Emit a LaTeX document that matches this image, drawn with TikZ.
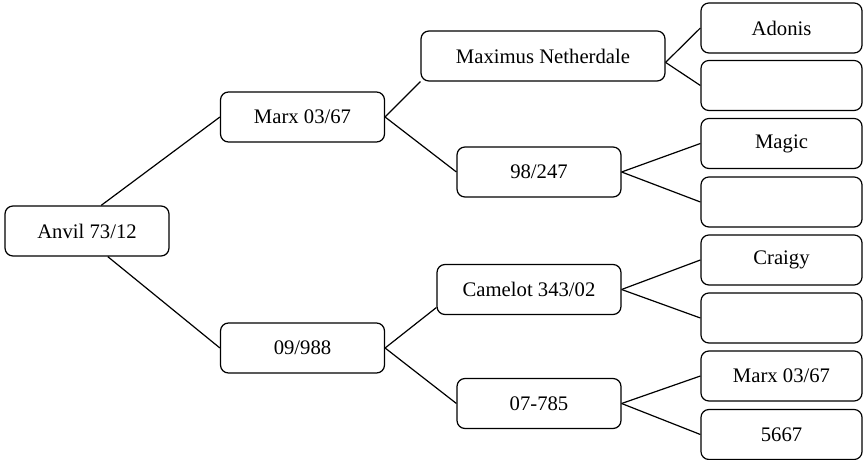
\documentclass[tikz,border=0pt]{standalone}
\usepackage{fontspec}
\setmainfont{Liberation Serif}
\usepackage{tikz}

\begin{document}
\begin{tikzpicture}[x=0.58pt,y=-0.58pt]
\tikzstyle{every node}+=[font=\fontsize{12}{14}\selectfont]
\tikzstyle{box}=[draw,line width=0.7pt,rounded corners=4.6pt,minimum width=95.1pt,minimum height=29pt,inner sep=0pt]
\tikzstyle{leaf}=[box,minimum width=93.4pt]
\tikzstyle{link}=[line width=0.7pt]

\useasboundingbox (0,0) rectangle (863,460);

% tree boxes
\node [box] (anvil) at (87,231) {Anvil 73/12};
\node [box] (marx) at (302.5,117) {Marx 03/67};
\node [box] (n0988) at (302.5,348) {09/988};
\node [box,minimum width=141.5pt] (maximus) at (543,56) {Maximus Netherdale};
\node [box] (n98) at (539,172) {98/247};
\node [box,minimum width=106.7pt] (camelot) at (529,289.5) {Camelot 343/02};
\node [box] (n07) at (539,403.5) {07-785};

% leaves
\node [leaf] (adonis) at (781.5,28) {Adonis};
\node [leaf] (leafa) at (781.5,85.5) {};
\node [leaf] (magic) at (781.5,143.5) {Magic};
\node [leaf] (leafb) at (781.5,202) {};
\node [leaf] (craigy) at (781.5,260) {Craigy};
\node [leaf] (leafc) at (781.5,318) {};
\node [leaf] (marxb) at (781.5,376) {Marx 03/67};
\node [leaf] (n5667) at (781.5,434.5) {5667};

% connectors
\draw [link] (anvil.61) -- (marx.west);
\draw [link] (anvil.-51) -- (n0988.west);
\draw [link] (marx.east) -- (maximus.south west);
\draw [link] (marx.east) -- (n98.west);
\draw [link] (n0988.east) -- (camelot.191);
\draw [link] (n0988.east) -- (n07.west);
\draw [link] (maximus.-3) -- (adonis.west);
\draw [link] (maximus.-3) -- (leafa.west);
\draw [link] (n98.east) -- (magic.west);
\draw [link] (n98.east) -- (leafb.west);
\draw [link] (camelot.east) -- (craigy.west);
\draw [link] (camelot.east) -- (leafc.west);
\draw [link] (n07.east) -- (marxb.west);
\draw [link] (n07.east) -- (n5667.west);
\end{tikzpicture}
\end{document}
